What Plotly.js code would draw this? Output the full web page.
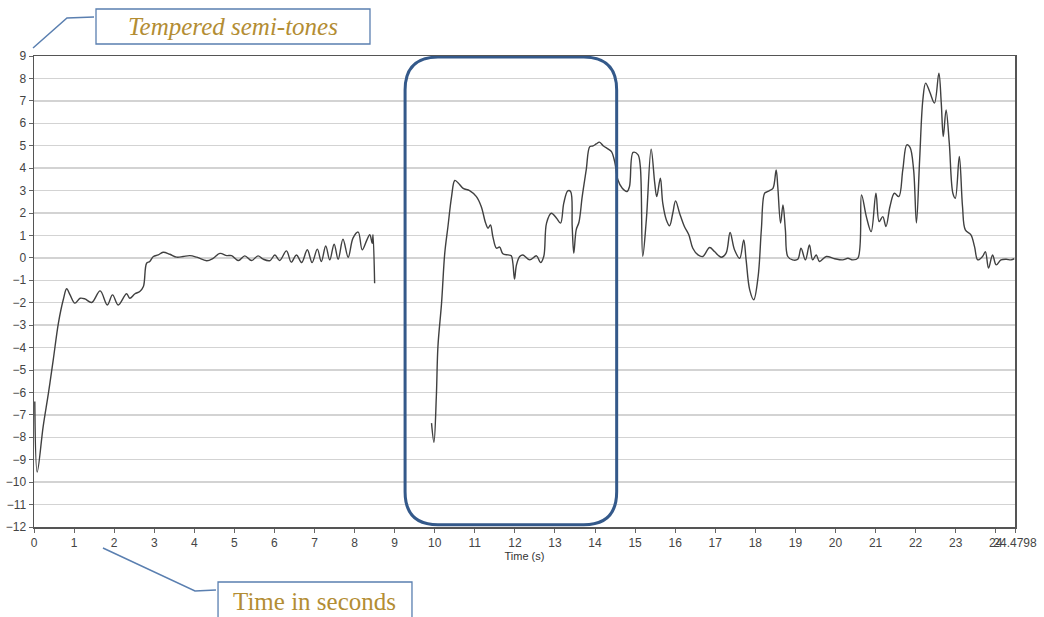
<!DOCTYPE html>
<html>
<head>
<meta charset="utf-8">
<script src="https://cdn.plot.ly/plotly-3.0.1.min.js"></script>
<style>
  html, body { margin: 0; padding: 0; background: #ffffff; }
  #chart { width: 1044px; height: 617px; }
</style>
</head>
<body>
<div id="chart"></div>
<script>
// ---- Data ----
// First phrase (time in seconds, pitch in tempered semi-tones)
const phrase1Time = [0.02, 0.08, 0.23, 0.36, 0.48, 0.61, 0.73, 0.815, 0.90, 1.02, 1.15, 1.27, 1.44, 1.65, 1.83, 1.96, 2.10, 2.31, 2.39, 2.52, 2.64, 2.73, 2.81, 2.89, 2.98, 3.10, 3.22, 3.39, 3.56, 3.72, 3.89, 4.06, 4.31, 4.47, 4.64, 4.81, 4.93, 5.10, 5.26, 5.43, 5.59, 5.72, 5.89, 6.01, 6.13, 6.30, 6.42, 6.55, 6.68, 6.82, 6.94, 7.07, 7.17, 7.28, 7.38, 7.49, 7.59, 7.71, 7.84, 7.96, 8.09, 8.19, 8.30, 8.38, 8.44, 8.46, 8.50];
const phrase1Pitch = [-6.4, -9.55, -7.5, -6.03, -4.55, -2.9, -1.87, -1.38, -1.65, -2.02, -1.8, -1.83, -1.99, -1.47, -2.1, -1.65, -2.1, -1.6, -1.8, -1.6, -1.5, -1.28, -0.24, -0.16, 0.06, 0.13, 0.25, 0.16, 0.03, 0.06, 0.1, 0.03, -0.13, -0.02, 0.2, 0.1, 0.1, -0.12, 0.09, -0.12, 0.09, -0.06, -0.12, 0.13, -0.12, 0.31, -0.19, 0.13, -0.21, 0.36, -0.21, 0.39, -0.16, 0.53, -0.09, 0.61, -0.06, 0.83, 0.03, 0.88, 1.15, 0.36, 0.77, 1.03, 0.65, 1.03, -1.13];

// Second phrase
const phrase2Time = [9.92, 9.98, 10.04, 10.08, 10.17, 10.25, 10.33, 10.42, 10.50, 10.58, 10.71, 10.87, 11.04, 11.16, 11.27, 11.33, 11.39, 11.45, 11.54, 11.62, 11.70, 11.83, 11.91, 11.95, 11.99, 12.04, 12.12, 12.20, 12.37, 12.54, 12.64, 12.72, 12.79, 12.91, 13.04, 13.14, 13.22, 13.32, 13.39, 13.43, 13.47, 13.53, 13.60, 13.68, 13.78, 13.87, 13.95, 14.03, 14.11, 14.21, 14.32, 14.41, 14.49, 14.57, 14.68, 14.80, 14.86, 14.95, 15.07, 15.13, 15.19, 15.28, 15.40, 15.49, 15.54, 15.63, 15.69, 15.78, 15.86, 15.94, 16.01, 16.11, 16.23, 16.34, 16.44, 16.57, 16.69, 16.86, 16.98, 17.15, 17.27, 17.37, 17.48, 17.61, 17.71, 17.77, 17.86, 17.96, 18.07, 18.15, 18.23, 18.29, 18.35, 18.44, 18.52, 18.56, 18.63, 18.69, 18.75, 18.81, 18.93, 19.06, 19.14, 19.25, 19.35, 19.43, 19.52, 19.60, 19.77, 19.98, 20.18, 20.31, 20.43, 20.56, 20.65, 20.77, 20.89, 21.01, 21.09, 21.18, 21.26, 21.36, 21.47, 21.58, 21.68, 21.78, 21.86, 21.95, 22.02, 22.10, 22.18, 22.25, 22.35, 22.47, 22.58, 22.64, 22.69, 22.76, 22.84, 22.93, 22.99, 23.09, 23.17, 23.24, 23.38, 23.47, 23.55, 23.67, 23.74, 23.82, 23.92, 24.01, 24.13, 24.26, 24.38, 24.46];
const phrase2Pitch = [-7.37, -8.22, -6.18, -3.95, -2.02, 0.21, 1.4, 2.73, 3.45, 3.35, 3.1, 3.0, 2.73, 2.29, 1.55, 1.32, 1.47, 0.95, 0.43, 0.48, 0.18, 0.13, 0.09, -0.24, -0.95, -0.31, 0.06, 0.13, -0.09, 0.09, -0.21, 0.06, 1.55, 1.99, 1.77, 1.55, 2.44, 2.99, 2.96, 1.4, 0.21, 1.25, 1.6, 2.73, 3.92, 4.96, 4.99, 5.08, 5.16, 4.99, 4.86, 4.74, 4.29, 3.48, 3.1, 2.96, 3.18, 4.7, 4.6, 4.07, 0.06, 1.69, 4.85, 3.33, 2.73, 3.55, 2.44, 1.69, 1.43, 1.99, 2.54, 1.99, 1.4, 1.03, 0.43, 0.13, 0.06, 0.46, 0.28, 0.03, 0.21, 1.13, 0.36, -0.02, 0.8, -0.09, -1.43, -1.87, -0.83, 1.25, 2.88, 2.94, 3.0, 3.1, 3.92, 3.18, 1.55, 2.36, 1.25, 0.06, -0.09, -0.06, 0.43, -0.09, 0.58, -0.09, 0.13, -0.16, 0.06, -0.04, -0.09, -0.02, -0.09, -0.01, 2.81, 1.84, 1.17, 2.88, 1.62, 1.84, 1.4, 2.29, 2.88, 2.73, 3.92, 5.04, 4.93, 3.92, 1.55, 4.37, 7.04, 7.79, 7.41, 6.9, 8.23, 6.9, 5.41, 6.6, 5.11, 2.88, 2.66, 4.52, 2.29, 1.25, 1.03, 0.5, -0.09, 0.06, 0.28, -0.46, 0.13, -0.31, -0.09, -0.06, -0.09, -0.04];

// Axis ticks
const xTickVals = [0,1,2,3,4,5,6,7,8,9,10,11,12,13,14,15,16,17,18,19,20,21,22,23,24,24.4798];
const xTickText = ["0","1","2","3","4","5","6","7","8","9","10","11","12","13","14","15","16","17","18","19","20","21","22","23","24","24.4798"];
const xEnd = 24.4798;
const yMin = -12, yMax = 9;

// Highlighted region (seconds / semi-tones)
const highlightT0 = 9.26, highlightT1 = 14.54;
const highlightP0 = -11.9, highlightP1 = 8.95;

// Annotation labels
const yLabelText = "<i>Tempered semi-tones</i>";
const xLabelText = "Time in seconds";

// ---- Build chart ----
const lineStyle = { color: '#404040', width: 1.4, shape: 'spline', smoothing: 1.0 };
const traces = [
  { x: phrase1Time, y: phrase1Pitch, mode: 'lines', line: lineStyle, hoverinfo: 'skip', showlegend: false },
  { x: phrase2Time, y: phrase2Pitch, mode: 'lines', line: lineStyle, hoverinfo: 'skip', showlegend: false }
];

// rounded rectangle path
const rx = 0.82, ry = 1.47;
const a0 = highlightT0, a1 = highlightT1, b0 = highlightP0, b1 = highlightP1;
const roundPath = `M ${a0+rx},${b1} L ${a1-rx},${b1} Q ${a1},${b1} ${a1},${b1-ry} L ${a1},${b0+ry} Q ${a1},${b0} ${a1-rx},${b0} L ${a0+rx},${b0} Q ${a0},${b0} ${a0},${b0+ry} L ${a0},${b1-ry} Q ${a0},${b1} ${a0+rx},${b1} Z`;

const boxLine = { color: '#5a7fb0', width: 1.3 };
const labelFont = { family: 'Liberation Serif, serif', size: 25, color: '#b38d33' };
const tickFont = { family: 'Liberation Sans, Arial, sans-serif', size: 12, color: '#444' };

const layout = {
  width: 1044, height: 617,
  margin: { l: 34, r: 29, t: 56, b: 90 },
  paper_bgcolor: '#ffffff', plot_bgcolor: '#ffffff',
  showlegend: false,
  xaxis: {
    range: [0, xEnd],
    tickmode: 'array', tickvals: xTickVals, ticktext: xTickText,
    tickangle: 0,
    ticks: 'outside', ticklen: 4, tickcolor: '#666', tickwidth: 1,
    showgrid: false, zeroline: false,
    showline: true, mirror: true, linecolor: '#555', linewidth: 1.5,
    tickfont: tickFont,
    title: { text: 'Time (s)', font: { family: 'Liberation Sans, Arial, sans-serif', size: 11, color: '#333' }, standoff: 0 },
    automargin: false, fixedrange: true
  },
  yaxis: {
    range: [yMin, yMax], dtick: 1, tick0: 0,
    ticks: 'outside', ticklen: 4, tickcolor: '#666', tickwidth: 1,
    showgrid: true, gridcolor: '#d3d3d3', gridwidth: 1.5,
    zeroline: false,
    showline: true, mirror: true, linecolor: '#555', linewidth: 1.5,
    tickfont: tickFont,
    automargin: false, fixedrange: true
  },
  shapes: [
    { type: 'path', xref: 'x', yref: 'y', path: roundPath, line: { color: '#34598a', width: 3 }, fillcolor: 'rgba(0,0,0,0)' },
    // label box: tempered semi-tones
    { type: 'rect', xref: 'paper', yref: 'paper', x0: 0.0632, x1: 0.3425, y0: 1.0255, y1: 1.0998, line: boxLine, fillcolor: 'rgba(255,255,255,0)' },
    { type: 'path', xref: 'paper', yref: 'paper', path: 'M -0.001,1.017 L 0.0336,1.0807 L 0.0612,1.0828', line: { color: '#5a7fb0', width: 1.5 } },
    // label box: time in seconds
    { type: 'rect', xref: 'paper', yref: 'paper', x0: 0.1876, x1: 0.3853, y0: -0.2050, y1: -0.1168, line: boxLine, fillcolor: 'rgba(255,255,255,0)' },
    { type: 'path', xref: 'paper', yref: 'paper', path: 'M 0.0703,-0.0446 L 0.1641,-0.1359 L 0.1855,-0.1338', line: { color: '#5a7fb0', width: 1.5 } }
  ],
  annotations: [
    { xref: 'paper', yref: 'paper', x: 0.2029, y: 1.0616, text: yLabelText, showarrow: false, font: labelFont, xanchor: 'center', yanchor: 'middle' },
    { xref: 'paper', yref: 'paper', x: 0.2864, y: -0.158, text: xLabelText, showarrow: false, font: labelFont, xanchor: 'center', yanchor: 'middle' }
  ]
};

Plotly.newPlot('chart', traces, layout, { staticPlot: true, displayModeBar: false });
</script>
</body>
</html>
